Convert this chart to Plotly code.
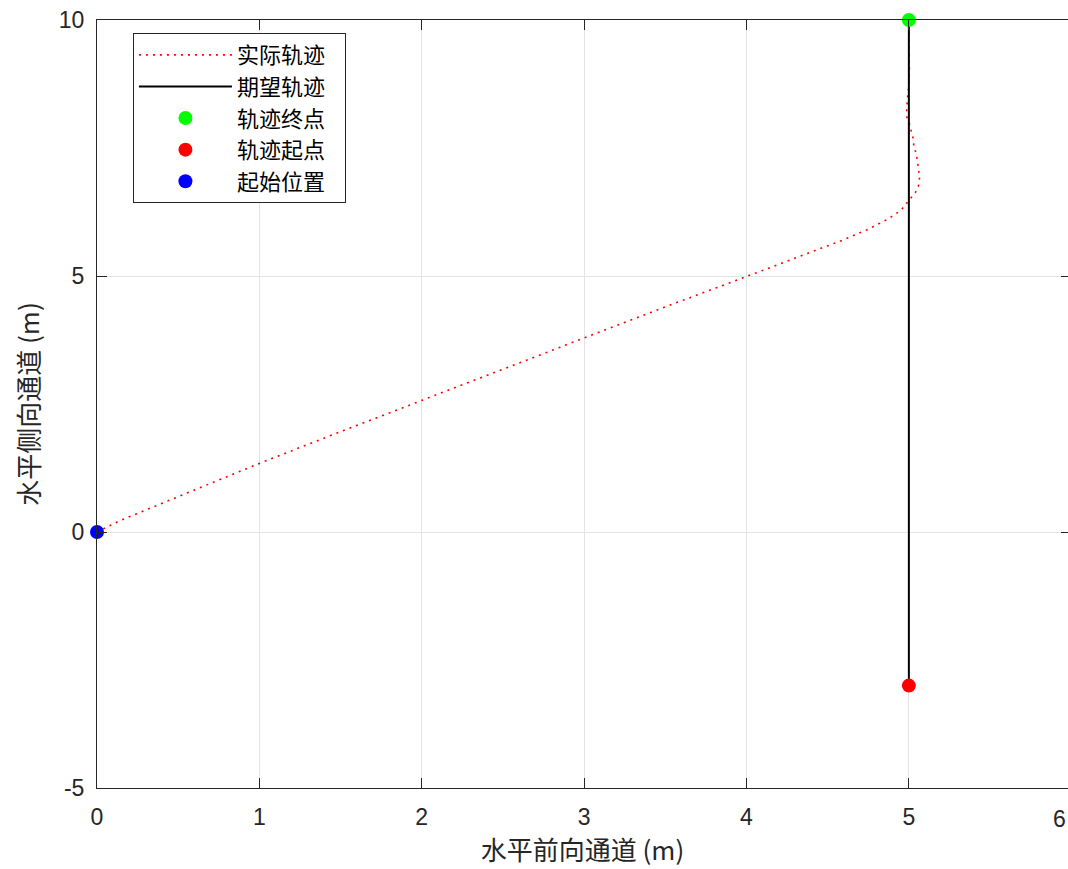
import plotly.graph_objects as go

actual_x = [0, 0.05, 0.14, 0.5, 1.0, 1.5, 2.0, 2.5, 3.0, 3.46, 4.0, 4.3, 4.6, 4.74, 4.87, 4.95,
            4.98, 5.01, 5.04, 5.06, 5.066, 5.06, 5.047, 5.031, 5.027, 5.015, 5.004, 4.985,
            4.987, 4.99, 5.0, 5.003, 5.0, 5.0]
actual_y = [0, 0.08, 0.22, 0.69, 1.34, 1.96, 2.57, 3.17, 3.78, 4.35, 4.99, 5.35, 5.71, 5.90, 6.11, 6.28,
            6.39, 6.51, 6.63, 6.77, 6.92, 7.07, 7.37, 7.53, 7.68, 7.82, 7.97, 8.13,
            8.28, 8.43, 8.74, 9.05, 9.5, 10]

desired_x = [5, 5]
desired_y = [-3, 10]

end_pt = (5, 10)
start_pt = (5, -3)
init_pt = (0, 0)

names = ["实际轨迹", "期望轨迹", "轨迹终点", "轨迹起点", "起始位置"]
x_ticks = [0, 1, 2, 3, 4, 5, 6]
x_labels = ["0", "1", "2", "3", "4", "5", "6"]
y_ticks = [-5, 0, 5, 10]
y_labels = ["-5", "0", "5", "10"]

cjk = "Noto Sans CJK SC"
num_font = "Liberation Sans"
ink = "#262626"
pad = "\u00a0\u00a0\u00a0"

fig = go.Figure()
fig.add_trace(go.Scatter(x=actual_x, y=actual_y, mode="lines", name=names[0] + pad,
                         line=dict(color="#ff0000", width=1.6, dash="2px,5px")))
fig.add_trace(go.Scatter(x=desired_x, y=desired_y, mode="lines", name=names[1] + pad,
                         line=dict(color="#000000", width=2)))
fig.add_trace(go.Scatter(x=[end_pt[0]], y=[end_pt[1]], mode="markers", name=names[2] + pad,
                         marker=dict(color="#00ff00", size=14), cliponaxis=False))
fig.add_trace(go.Scatter(x=[start_pt[0]], y=[start_pt[1]], mode="markers", name=names[3] + pad,
                         marker=dict(color="#ff0000", size=14), cliponaxis=False))
fig.add_trace(go.Scatter(x=[init_pt[0]], y=[init_pt[1]], mode="markers", name=names[4] + pad,
                         marker=dict(color="#0000ff", size=14), cliponaxis=False))
# helper trace for right-side ticks
fig.add_trace(go.Scatter(x=[None], y=[None], yaxis="y2", showlegend=False, hoverinfo="skip"))

axis_common = dict(
    showgrid=True, gridcolor="#e3e3e3", gridwidth=1,
    ticks="inside", ticklen=10, tickwidth=1, tickcolor=ink,
    showline=True, linecolor=ink, linewidth=1,
    zeroline=False,
    tickfont=dict(family=num_font, size=23, color=ink),
)

fig.update_layout(
    width=1068, height=869,
    margin=dict(l=97, r=0, t=20, b=81),
    plot_bgcolor="white", paper_bgcolor="white",
    xaxis=dict(range=[0, 5.98], tickvals=x_ticks, ticktext=x_labels, mirror="ticks",
               ticklabelstandoff=8,
               title=dict(text="水平前向通道 (m)", font=dict(family=cjk, size=26, color=ink), standoff=13),
               **axis_common),
    yaxis=dict(range=[-5, 10], tickvals=y_ticks, ticktext=y_labels,
               ticklabelstandoff=7,
               title=dict(text="水平侧向通道 (m)", font=dict(family=cjk, size=26, color=ink), standoff=11),
               **axis_common),
    yaxis2=dict(range=[-5, 10], tickvals=y_ticks, overlaying="y", side="right", anchor="x",
                showline=False, showgrid=False, showticklabels=False, zeroline=False,
                ticks="inside", ticklen=7, tickwidth=1, tickcolor=ink),
    legend=dict(x=0.037, y=0.983, xanchor="left", yanchor="top",
                bgcolor="white", bordercolor=ink, borderwidth=1,
                font=dict(family=cjk, size=22, color="#000000"),
                itemwidth=93),
    showlegend=True,
    annotations=[dict(text=x_labels[-1], xref="paper", yref="paper", x=1, y=0,
                      xanchor="right", yanchor="top", xshift=0, yshift=-16, showarrow=False,
                      font=dict(family=num_font, size=23, color=ink))],
)

fig.write_html("out.html")
